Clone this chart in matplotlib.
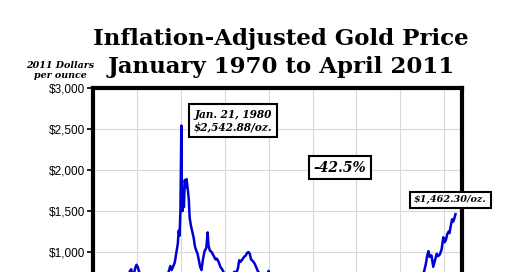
import matplotlib
matplotlib.use("Agg")
import matplotlib.pyplot as plt

# --------------------------
# Data (inflation-adjusted gold price, 2011 dollars per ounce)
# --------------------------
years = [
    1970.0, 1970.5, 1971.0, 1971.5, 1972.0, 1972.5, 1973.0, 1973.3, 1973.5, 1973.8,
    1974.0, 1974.2, 1974.35, 1974.5, 1974.7, 1974.85, 1974.95, 1975.1, 1975.3, 1975.5,
    1975.7, 1975.9, 1976.2, 1976.5, 1976.7, 1977.0, 1977.5, 1977.9, 1978.2, 1978.5,
    1978.8, 1978.95, 1979.1, 1979.3, 1979.5, 1979.65, 1979.75, 1979.85, 1979.95, 1980.055,
    1980.1, 1980.2, 1980.28, 1980.35, 1980.45, 1980.55, 1980.65, 1980.75, 1980.9, 1981.0,
    1981.15, 1981.3, 1981.45, 1981.6, 1981.75, 1981.9, 1982.05, 1982.2, 1982.35, 1982.5,
    1982.7, 1982.9, 1983.05, 1983.15, 1983.3, 1983.5, 1983.65, 1983.8, 1983.95, 1984.1,
    1984.3, 1984.5, 1984.7, 1984.9, 1985.1, 1985.3, 1985.5, 1985.7, 1985.9, 1986.1,
    1986.3, 1986.5, 1986.65, 1986.8, 1987.0, 1987.2, 1987.4, 1987.55, 1987.7, 1987.85,
    1988.0, 1988.2, 1988.4, 1988.6, 1988.8, 1989.0, 1989.3, 1989.6, 1989.8, 1990.0,
    1990.2, 1990.5, 1990.8, 1991.0, 1991.5, 1992.0, 1992.5, 1993.0, 1993.5, 1993.8,
    1994.2, 1994.6, 1995.0, 1995.5, 1996.0, 1996.5, 1997.0, 1997.5, 1998.0, 1998.5,
    1999.0, 1999.5, 1999.8, 2000.2, 2000.6, 2001.0, 2001.5, 2001.8, 2002.2, 2002.6,
    2003.0, 2003.5, 2004.0, 2004.5, 2005.0, 2005.5, 2005.9, 2006.3, 2006.6, 2007.0,
    2007.4, 2007.7, 2007.9, 2008.05, 2008.2, 2008.35, 2008.55, 2008.75, 2008.85, 2009.0,
    2009.15, 2009.3, 2009.5, 2009.7, 2009.9, 2010.05, 2010.2, 2010.35, 2010.5, 2010.6,
    2010.75, 2010.9, 2011.0, 2011.1, 2011.2, 2011.29,
]
prices = [
    205, 200, 215, 230, 260, 340, 370, 480, 600, 520,
    700, 770, 790, 700, 760, 820, 845, 815, 740, 700,
    640, 600, 550, 470, 460, 530, 570, 620, 680, 720,
    830, 780, 820, 870, 1000, 1100, 1260, 1200, 1500, 2542.88,
    1900, 1500, 1650, 1550, 1880, 1790, 1890, 1800, 1650, 1420,
    1320, 1250, 1180, 1070, 1020, 980, 900, 820, 780, 900,
    1010, 1050, 1240, 1080, 1020, 1000, 970, 940, 910, 920,
    880, 820, 790, 750, 680, 700, 680, 690, 720, 760,
    740, 800, 900, 880, 910, 940, 960, 990, 1000, 980,
    910, 890, 860, 810, 760, 740, 690, 680, 700, 770,
    700, 670, 660, 620, 590, 560, 540, 520, 600, 560,
    580, 570, 560, 560, 580, 540, 500, 450, 420, 400,
    390, 350, 410, 390, 370, 355, 350, 370, 390, 410,
    450, 440, 500, 480, 510, 520, 580, 720, 680, 690,
    710, 760, 850, 950, 1010, 940, 960, 820, 860, 920,
    980, 950, 970, 1030, 1180, 1120, 1150, 1220, 1250, 1230,
    1320, 1400, 1370, 1390, 1430, 1462.30,
]

# only the upper ticks fall inside the (cropped) picture
y_ticks = [1000, 1500, 2000, 2500, 3000]
y_labels = ["$1,000", "$1,500", "$2,000", "$2,500", "$3,000"]
x_grid = [1975, 1980, 1985, 1990, 1995, 2000, 2005, 2010]

SERIF = "DejaVu Serif"
SANS = "Liberation Sans"

# --------------------------
# Plotting
# --------------------------
fig = plt.figure(figsize=(5.2, 2.72), dpi=100)
ax = fig.add_axes([0.179, -0.228, 0.709, 0.904])

ax.plot(years, prices, color="#0000d2", lw=1.8, zorder=3)

ax.set_xlim(1970, 2012)
ax.set_ylim(0, 3000)
ax.set_yticks(y_ticks)
ax.set_yticklabels(y_labels, fontfamily=SANS, fontsize=8.5)
ax.set_xticks(x_grid)
ax.tick_params(axis="x", length=0, labelbottom=False)
ax.tick_params(axis="y", length=4, width=1.2, pad=2)
ax.grid(True, color="#d8d8d8", lw=0.8)
for s in ax.spines.values():
    s.set_linewidth(3)

fig.text(0.54, 0.835, "Inflation-Adjusted Gold Price", ha="center", va="baseline",
         fontfamily=SERIF, fontweight="bold", fontsize=16.5)
fig.text(0.54, 0.732, "January 1970 to April 2011", ha="center", va="baseline",
         fontfamily=SERIF, fontweight="bold", fontsize=16.5)
fig.text(0.116, 0.741, "2011 Dollars\nper ounce", ha="center", va="center",
         fontfamily=SERIF, fontweight="bold", fontstyle="italic", fontsize=6.8,
         linespacing=1.05)

box = dict(boxstyle="square,pad=0.45", fc="white", ec="black", lw=1.5)
fig.text(0.448, 0.557, "Jan. 21, 1980\n$2,542.88/oz.", ha="center", va="center",
         fontfamily=SERIF, fontweight="bold", fontstyle="italic", fontsize=7.6,
         linespacing=1.1, bbox=box)
fig.text(0.654, 0.384, "-42.5%", ha="center", va="center",
         fontfamily=SERIF, fontweight="bold", fontstyle="italic", fontsize=10,
         bbox=dict(boxstyle="square,pad=0.35", fc="white", ec="black", lw=1.5))
fig.text(0.866, 0.265, "$1,462.30/oz.", ha="center", va="center",
         fontfamily=SERIF, fontweight="bold", fontstyle="italic", fontsize=6.9,
         bbox=dict(boxstyle="square,pad=0.4", fc="white", ec="black", lw=1.5),
         zorder=5)

fig.savefig("out.png", dpi=100)
